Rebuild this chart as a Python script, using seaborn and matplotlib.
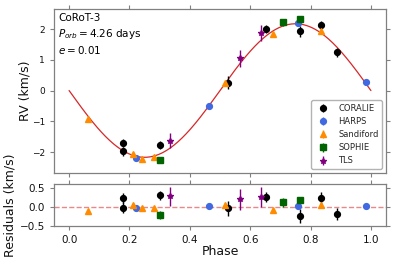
import numpy as np
import pandas as pd
import matplotlib
matplotlib.use("Agg")
import matplotlib.pyplot as plt
import seaborn as sns

# ---- data ----
coralie_phase = [0.177, 0.177, 0.302, 0.525, 0.652, 0.766, 0.836, 0.888]
coralie_rv    = [-1.72, -1.97, -1.77, 0.26, 2.00, 1.93, 2.12, 1.24]
coralie_res   = [0.23, -0.02, 0.30, -0.04, 0.27, -0.24, 0.23, -0.18]
coralie_err   = [0.13, 0.15, 0.12, 0.20, 0.13, 0.18, 0.15, 0.15]

harps_phase = [0.223, 0.464, 0.760, 0.983]
harps_rv    = [-2.18, -0.50, 2.20, 0.29]
harps_res   = [-0.02, 0.03, 0.03, 0.03]
harps_err   = [0.02, 0.02, 0.02, 0.02]

sand_phase = [0.064, 0.213, 0.240, 0.282, 0.518, 0.675, 0.836]
sand_rv    = [-0.93, -2.07, -2.21, -2.17, 0.25, 1.83, 1.93]
sand_res   = [-0.10, 0.05, -0.02, -0.02, 0.06, -0.08, 0.05]
sand_err   = [0.03, 0.03, 0.03, 0.03, 0.03, 0.03, 0.03]

sophie_phase = [0.302, 0.709, 0.766]
sophie_rv    = [-2.27, 2.22, 2.33]
sophie_res   = [-0.21, 0.12, 0.17]
sophie_err   = [0.10, 0.12, 0.08]

tls_phase = [0.334, 0.567, 0.636]
tls_rv    = [-1.63, 1.05, 1.86]
tls_res   = [0.28, 0.20, 0.27]
tls_err   = [0.25, 0.28, 0.26]

# Keplerian model (circular orbit, semi-amplitude K)
K_model = 2.17
model_phase = np.linspace(0.0, 1.0, 300)
model_rv = -K_model * np.sin(2 * np.pi * model_phase)

instruments = [
    ("CORALIE", coralie_phase, coralie_rv, coralie_res, coralie_err, "black", "o", 4.2),
    ("HARPS", harps_phase, harps_rv, harps_res, harps_err, "royalblue", "o", 4.2),
    ("Sandiford", sand_phase, sand_rv, sand_res, sand_err, "darkorange", "^", 4.5),
    ("SOPHIE", sophie_phase, sophie_rv, sophie_res, sophie_err, "darkgreen", "s", 4.2),
    ("TLS", tls_phase, tls_rv, tls_res, tls_err, "purple", "*", 3.8),
]

sns.set_style("ticks")
plt.rcParams["font.family"] = ["DejaVu Sans"]
plt.rcParams["axes.edgecolor"] = "gray"
plt.rcParams["xtick.color"] = "gray"
plt.rcParams["ytick.color"] = "gray"
plt.rcParams["xtick.labelcolor"] = "#111111"
plt.rcParams["ytick.labelcolor"] = "#111111"
plt.rcParams["axes.labelcolor"] = "#111111"

fig = plt.figure(figsize=(3.95, 2.64), dpi=100)
ax1 = fig.add_axes([0.1367, 0.3447, 0.8405, 0.6212])
ax2 = fig.add_axes([0.1367, 0.1439, 0.8405, 0.1591])

model_df = pd.DataFrame({"phase": model_phase, "rv": model_rv})
sns.lineplot(data=model_df, x="phase", y="rv", ax=ax1, color="#d62728",
             lw=0.9, zorder=1, legend=False)

for name, ph, rv, res, err, col, mk, ms in instruments:
    ax1.errorbar(ph, rv, yerr=err, fmt=mk, color=col, ecolor=col, ms=ms,
                 elinewidth=1.0, capsize=0, label=name, zorder=3)
    ax2.errorbar(ph, res, yerr=err, fmt=mk, color=col, ecolor=col, ms=ms,
                 elinewidth=1.0, capsize=0, zorder=3)

ax2.axhline(0.0, color="#d62728", ls="--", lw=1.0, alpha=0.55, zorder=1)

for ax in (ax1, ax2):
    ax.set_xlim(-0.05, 1.05)
    ax.set_xticks([0.0, 0.2, 0.4, 0.6, 0.8, 1.0])
    ax.tick_params(which="both", direction="out", length=3, width=0.8,
                   top=True, right=True, labeltop=False, labelright=False)
    for s in ax.spines.values():
        s.set_visible(True)
        s.set_linewidth(0.9)

ax1.set_ylim(-2.68, 2.65)
ax1.set_yticks([-2, -1, 0, 1, 2])
ax1.tick_params(axis="y", labelsize=6.5)
ax1.tick_params(axis="x", labelbottom=False)
ax1.set_xlabel("")
ax1.set_ylabel("RV (km/s)", fontsize=9, labelpad=0)

ax2.set_ylim(-0.5, 0.6)
ax2.set_yticks([-0.5, 0.0, 0.5])
ax2.tick_params(axis="both", labelsize=7.5)
ax2.set_xlabel("Phase", fontsize=9, labelpad=0)
ax2.set_ylabel("Residuals (km/s)", fontsize=9, labelpad=2)

ax1.text(0.012, 0.975, "CoRoT-3\n$P_{orb} = 4.26$ days\n$e = 0.01$",
         transform=ax1.transAxes, ha="left", va="top", fontsize=7.5,
         color="black", linespacing=1.35)

leg = ax1.legend(loc="lower right", fontsize=6, frameon=True, fancybox=True,
                 edgecolor="0.7", framealpha=1.0)

fig.savefig("out.png", dpi=100)
